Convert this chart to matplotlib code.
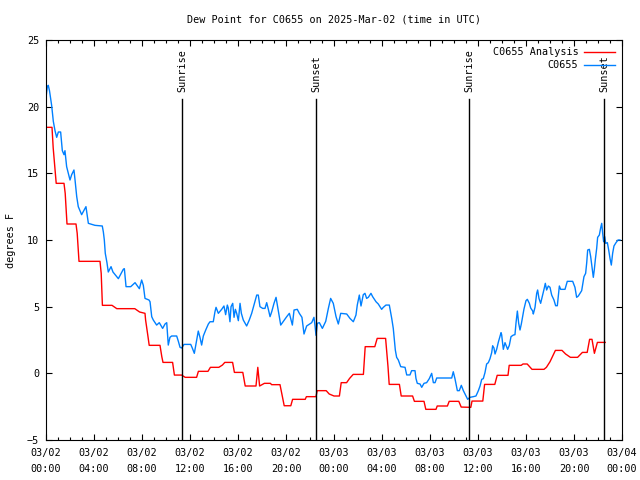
import matplotlib
matplotlib.use("Agg")
import matplotlib.pyplot as plt

# --- datos (horas desde 03/02 00:00 UTC, grados F) ---
analisis_h = [0, 0.5, 0.6, 0.85, 1.5, 1.6, 1.75, 2.5, 2.6, 2.75, 4.5, 4.6, 4.7, 5.5, 5.9,
              7.4, 7.8, 8.25, 8.3, 8.5, 8.6, 9.5, 9.65, 9.75, 10.55, 10.7, 11.3, 11.6, 12.55,
              12.7, 13.5, 13.7, 14.4, 14.7, 14.9, 15.55, 15.7, 16.4, 16.6, 17.5, 17.65, 17.8,
              18.2, 18.7, 18.8, 19.5, 19.7, 19.85, 20.4, 20.55, 21.6, 21.7, 22.5, 22.6, 23.35,
              23.6, 24.0, 24.45, 24.6, 25.05, 25.3, 25.6, 26.45, 26.6, 27.4, 27.6, 28.3, 28.5,
              28.6, 29.45, 29.6, 30.55, 30.7, 31.5, 31.65, 32.5, 32.6, 33.45, 33.6, 34.4, 34.6,
              35.4, 35.5, 36.4, 36.55, 37.4, 37.6, 38.5, 38.6, 39.6, 39.75, 40.1, 40.5, 41.5,
              41.7, 42.0, 42.45, 43.0, 43.3, 43.7, 44.3, 44.7, 45.1, 45.3, 45.5, 45.7, 45.95,
              46.6]
analisis_f = [18.45, 18.45, 16.9, 14.25, 14.25, 13.5, 11.2, 11.2, 10.5, 8.4, 8.4, 7.5, 5.1,
              5.1, 4.85, 4.85, 4.6, 4.5, 4.0, 2.75, 2.1, 2.1, 1.25, 0.82, 0.82, -0.13, -0.13,
              -0.3, -0.3, 0.15, 0.15, 0.45, 0.45, 0.62, 0.82, 0.82, 0.07, 0.07, -0.95, -0.95,
              0.45, -0.95, -0.75, -0.75, -0.85, -0.85, -1.75, -2.43, -2.43, -1.95, -1.95, -1.75,
              -1.75, -1.3, -1.3, -1.55, -1.7, -1.7, -0.7, -0.7, -0.38, -0.08, -0.08, 2.0, 2.0,
              2.62, 2.62, 0.5, -0.83, -0.83, -1.7, -1.7, -2.1, -2.1, -2.7, -2.7, -2.45, -2.45,
              -2.1, -2.1, -2.53, -2.55, -2.08, -2.08, -0.83, -0.83, -0.15, -0.15, 0.6, 0.6,
              0.7, 0.7, 0.3, 0.3, 0.45, 0.87, 1.72, 1.72, 1.45, 1.2, 1.2, 1.57, 1.57, 2.55,
              2.55, 1.5, 2.32, 2.32]

obs_h = [0.03, 0.11, 0.19, 0.29, 0.47, 0.61, 0.75, 0.89, 1.03, 1.22, 1.36, 1.5, 1.58, 1.72,
         2.0, 2.14, 2.33, 2.42, 2.56, 2.69, 2.97, 3.33, 3.53, 4.08, 4.69, 4.78, 4.86, 4.94,
         5.08, 5.19, 5.42, 5.58, 6.03, 6.44, 6.53, 6.67, 7.06, 7.42, 7.78, 7.97, 8.11, 8.25,
         8.58, 8.67, 8.81, 8.94, 9.22, 9.44, 9.72, 9.92, 10.06, 10.19, 10.33, 10.47, 10.89,
         11.03, 11.17, 11.31, 11.5, 12.06, 12.19, 12.36, 12.56, 12.69, 12.83, 12.97, 13.11,
         13.31, 13.53, 13.67, 13.94, 14.08, 14.17, 14.36, 14.64, 14.83, 14.97, 15.11, 15.19,
         15.33, 15.42, 15.56, 15.67, 15.78, 15.89, 16.03, 16.17, 16.28, 16.44, 16.72, 16.94,
         17.14, 17.33, 17.56, 17.69, 17.83, 18.06, 18.25, 18.39, 18.53, 18.67, 18.81, 19.0,
         19.17, 19.28, 19.44, 19.56, 19.78, 20.06, 20.28, 20.53, 20.67, 20.94, 21.11, 21.33,
         21.5, 21.72, 22.14, 22.33, 22.42, 22.5, 22.61, 22.78, 23.03, 23.31, 23.47, 23.53,
         23.72, 23.94, 24.17, 24.36, 24.56, 25.06, 25.33, 25.61, 25.83, 25.94, 26.11, 26.25,
         26.44, 26.58, 26.72, 26.86, 27.08, 27.22, 27.5, 27.69, 27.97, 28.11, 28.33, 28.61,
         28.81, 28.94, 29.03, 29.11, 29.22, 29.36, 29.56, 29.92, 30.06, 30.33, 30.47, 30.75,
         30.83, 30.94, 31.17, 31.31, 31.5, 31.72, 31.94, 32.14, 32.28, 32.42, 32.56, 33.81,
         33.94, 34.08, 34.28, 34.44, 34.61, 34.78, 35.0, 35.14, 35.33, 35.61, 35.83, 36.03,
         36.17, 36.31, 36.44, 36.58, 36.72, 36.86, 37.0, 37.14, 37.22, 37.33, 37.42, 37.56,
         37.69, 37.83, 37.92, 37.97, 38.11, 38.25, 38.47, 38.61, 38.75, 38.94, 39.08, 39.17,
         39.28, 39.39, 39.5, 39.61, 39.72, 39.83, 40.0, 40.11, 40.28, 40.39, 40.56, 40.61,
         40.75, 40.89, 40.97, 41.08, 41.22, 41.39, 41.5, 41.61, 41.72, 41.86, 42.0, 42.14,
         42.33, 42.47, 42.61, 42.78, 42.89, 43.25, 43.44, 43.89, 44.08, 44.22, 44.36, 44.64,
         44.83, 44.97, 45.06, 45.14, 45.28, 45.39, 45.5, 45.61, 45.69, 45.78, 45.89, 45.97,
         46.11, 46.22, 46.31, 46.39, 46.47, 46.56, 46.64, 46.78, 46.89, 47.0, 47.11, 47.22,
         47.33, 47.5, 47.67, 47.83]
obs_f = [20.9, 21.5, 21.6, 21.2, 20.1, 18.9, 18.2, 17.7, 18.1, 18.1, 16.7, 16.4, 16.7, 15.5,
         14.5, 14.9, 15.25, 14.5, 13.25, 12.5, 11.9, 12.5, 11.25, 11.1, 11.05, 10.6, 10.0, 9.0,
         8.3, 7.6, 8.0, 7.6, 7.1, 7.8, 7.85, 6.5, 6.5, 6.8, 6.35, 7.0, 6.6, 5.62,
         5.5, 5.37, 4.25, 4.0, 3.62, 3.8, 3.37, 3.7, 3.8, 2.12, 2.7, 2.8, 2.8,
         2.4, 1.95, 1.9, 2.17, 2.17, 1.9, 1.5, 2.5, 3.17, 2.7, 2.12, 2.8,
         3.25, 3.7, 3.87, 3.87, 4.62, 4.95, 4.5, 4.8, 5.05, 4.4, 5.12, 4.9,
         3.87, 5.0, 5.25, 4.2, 4.8, 4.5, 3.95, 5.25, 4.5, 4.0, 3.55, 4.0,
         4.5, 5.12, 5.87, 5.87, 5.0, 4.87, 4.87, 5.3, 4.8, 4.25, 4.62, 5.25,
         5.7, 5.1, 4.25, 3.62, 3.9, 4.25, 4.5, 3.62, 4.75, 4.8, 4.5, 4.2,
         2.95, 3.55, 3.8, 4.2, 3.55, 2.85, 3.75, 3.8, 3.37, 3.9, 4.62, 4.87,
         5.62, 5.25, 4.25, 3.7, 4.5, 4.45, 4.12, 3.87, 4.37, 5.12, 5.87, 5.05,
         5.9, 6.0, 5.62, 5.7, 6.0, 5.75, 5.37, 5.2, 4.8, 4.95, 5.12, 5.12,
         4.12, 3.37, 2.5, 1.75, 1.2, 1.0, 0.5, 0.45, -0.12, -0.12, 0.2, 0.2,
         -0.38, -0.75, -0.8, -1.05, -0.75, -0.7, -0.4, 0.0, -0.7, -0.7, -0.35, -0.35,
         0.12, -0.4, -1.3, -1.3, -0.9, -1.3, -1.7, -1.95, -1.8, -1.75, -1.7, -1.3,
         -0.95, -0.45, -0.4, 0.05, 0.7, 0.8, 1.1, 1.55, 2.07, 1.9, 1.45, 1.82,
         2.32, 2.75, 3.05, 2.9, 1.8, 2.3, 1.8, 2.1, 2.75, 2.87, 2.9, 3.8,
         4.67, 3.75, 3.25, 3.7, 4.25, 4.82, 5.45, 5.55, 5.25, 4.9, 4.67, 4.45,
         4.95, 6.0, 6.25, 5.62, 5.25, 5.87, 6.3, 6.75, 6.25, 6.55, 6.45, 5.87,
         5.5, 5.07, 5.07, 6.55, 6.3, 6.3, 6.9, 6.9, 6.45, 5.7, 5.8, 6.2,
         7.25, 7.5, 8.3, 9.25, 9.3, 8.75, 8.0, 7.2, 7.75, 8.55, 9.37, 10.2,
         10.37, 10.9, 11.25, 10.5, 9.87, 10.25, 9.75, 9.8, 9.25, 8.62, 8.12, 9.0,
         9.55, 9.8, 10.0, 10.0]

sol_h = [11.35, 22.5, 35.27, 46.53]
sol_txt = ["Sunrise", "Sunset", "Sunrise", "Sunset"]

ticks_h = list(range(0, 49, 4))
ticks_txt = ["03/02\n00:00", "03/02\n04:00", "03/02\n08:00", "03/02\n12:00", "03/02\n16:00",
             "03/02\n20:00", "03/03\n00:00", "03/03\n04:00", "03/03\n08:00", "03/03\n12:00",
             "03/03\n16:00", "03/03\n20:00", "03/04\n00:00"]

FUENTE = "DejaVu Sans Mono"
TAM = 7.3
plt.rcParams["font.family"] = FUENTE
plt.rcParams["font.size"] = TAM

fig = plt.figure(figsize=(6.4, 4.8), dpi=100)
ax = fig.add_axes([46 / 640, 40 / 480, 576 / 640, 400 / 480])

ax.plot(analisis_h, analisis_f, color="#ff0000", lw=1.0, label="C0655 Analysis")
ax.plot(obs_h, obs_f, color="#0080ff", lw=1.0, label="C0655")

for h, txt in zip(sol_h, sol_txt):
    ax.plot([h, h], [-5, 20.6], color="black", lw=1.0)
    ax.text(h, 21.1, txt, rotation=90, ha="center", va="bottom")

ax.set_xlim(0, 48)
ax.set_ylim(-5, 25)
ax.set_xticks(ticks_h)
ax.set_xticklabels(ticks_txt, linespacing=1.65)
ax.set_xticks(range(0, 49), minor=True)
ax.set_yticks(range(-5, 26, 5))
ax.tick_params(which="both", direction="in", top=True, right=True, width=0.8)
ax.tick_params(which="major", length=4.5, pad=5)
ax.tick_params(axis="x", which="major", pad=6)
ax.tick_params(which="minor", length=2.2)
for s in ax.spines.values():
    s.set_linewidth(0.8)

ax.legend(loc="upper right", frameon=False, markerfirst=False, handlelength=3.0,
          borderaxespad=0.3, labelspacing=0.3, handletextpad=0.6)

fig.text(334 / 640, 1 - 20 / 480, "Dew Point for C0655 on 2025-Mar-02 (time in UTC)",
         ha="center", va="center")
fig.text(11 / 640, 0.5, "degrees F", rotation=90, ha="center", va="center")

fig.savefig("out.png", dpi=100)
